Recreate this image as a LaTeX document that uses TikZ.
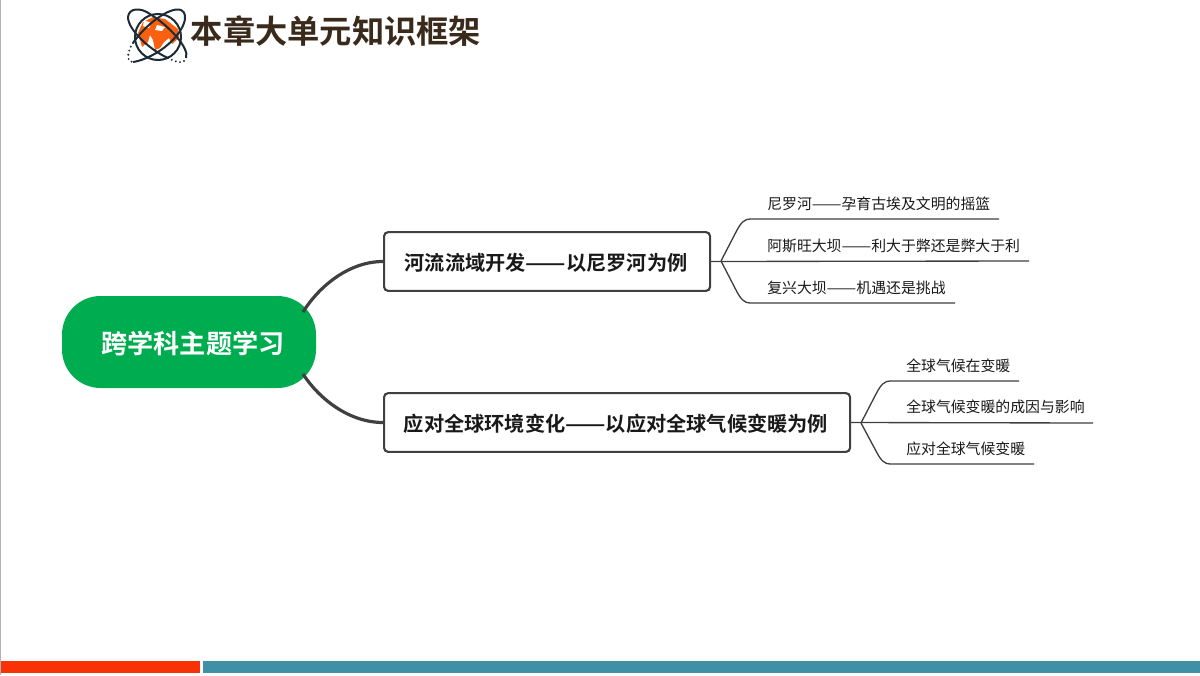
\documentclass[tikz,border=0pt]{standalone}
\usepackage{fontspec}
\setmainfont{Noto Sans CJK SC}[BoldFont={Noto Sans CJK SC Bold}]
\usetikzlibrary{positioning}
\definecolor{rootgreen}{HTML}{00AC50}
\definecolor{linegray}{HTML}{404040}
\definecolor{titlebrown}{HTML}{3A2A1C}
\definecolor{logonavy}{HTML}{1C2B36}
\definecolor{logoorange}{HTML}{F9600F}
\definecolor{barred}{HTML}{F93206}
\definecolor{barteal}{HTML}{3F8FA6}
\newcommand{\longdash}{\resizebox{2em}{\height}{——}}

\begin{document}
\begin{tikzpicture}[
	x=0.75pt, y=-0.75pt,
	root/.style={rectangle, rounded corners=29pt, fill=rootgreen, text=white, font=\fontsize{19.6pt}{22pt}\bfseries,
		minimum width=190.5pt, minimum height=69pt, inner sep=0pt},
	topic/.style={rectangle, rounded corners=3pt, draw=linegray, line width=1.6pt, fill=white,
		minimum height=44pt, inner sep=0pt, anchor=west},
	topictext/.style={font=\fontsize{15.15pt}{18pt}\bfseries, text=black!90, inner sep=0pt},
	leaf/.style={text=black!90, font=\fontsize{11.15pt}{13pt}\selectfont, inner sep=0pt, anchor=west},
	branch/.style={draw=linegray, line width=2.4pt},
	twig/.style={draw=linegray, line width=1pt},
	orbit/.style={draw=logonavy, line width=1.5pt},
	orbitdots/.style={draw=logonavy, line width=1.6pt, line cap=round, dash pattern=on 0pt off 3.2pt}
]
\useasboundingbox (0,0) rectangle (1200,675);
\fill[white] (0,0) rectangle (1200,675);
\draw[black!30, line width=0.9pt] (0.5,0) -- (0.5,675);

% bottom bars
\fill[barred] (1,661) rectangle (200,673);
\fill[barteal] (203,661) rectangle (1200,673);

% logo
\fill[logoorange] (138,33) -- (143,22) -- (153,17) -- (165,19) -- (178,29) -- (179,38) -- (172,44)
	-- (169,38) -- (164,42) -- (160,48) -- (155,50) -- (153,40) -- (150,35) -- (148,42) -- (142,47) -- (139,35) -- cycle;
\fill[white] (144,20) -- (151,23) -- (149,28) -- (143,26) -- cycle;
\fill[white] (157,25) -- (165,27) -- (162,31) -- (155,30) -- cycle;
\draw[orbit] (158,37) circle [radius=23];
\draw[orbit] (168,58) .. controls (150,50) and (128,30) .. (128,17)
	.. controls (129,8) and (140,7) .. (150,14) .. controls (168,25) and (190,48) .. (186,58);
\draw[orbit] (133,43) .. controls (145,25) and (170,6) .. (181,10)
	.. controls (190,14) and (184,32) .. (165,47) .. controls (152,57) and (140,61) .. (133,62);
\draw[orbitdots] (133,43) .. controls (127,52) and (126,62) .. (133,62);
\draw[orbitdots] (168,58) .. controls (176,62) and (184,65) .. (186,58);

% title
\node[font=\fontsize{24.2pt}{28pt}\bfseries, text=titlebrown, inner sep=0pt] (Title) at (336,31) {本章大单元知识框架};

% mind map
\node [root] (Root) at (189,342) {};
\node [text=white, font=\fontsize{19.6pt}{22pt}\bfseries, inner sep=0pt] (RootText) at (193,344) {跨学科主题学习};
\node [topic, minimum width=244.5pt] (Nile) at (383,261.5) {};
\node [topictext] (NileText) at (546,263) {河流流域开发\longdash 以尼罗河为例};
\node [topic, minimum width=349.5pt] (Climate) at (383,422.5) {};
\node [topictext] (ClimateText) at (616,424) {应对全球环境变化\longdash 以应对全球气候变暖为例};

\coordinate (RootUp) at (303,312);
\coordinate (RootDown) at (303,374);
\draw[branch] (RootUp) .. controls (320,285) and (350,261.5) .. (Nile.west);
\draw[branch] (RootDown) .. controls (320,400) and (350,422.5) .. (Climate.west);

\node [leaf] (NileA) at (767,204) {尼罗河\longdash 孕育古埃及文明的摇篮};
\node [leaf] (NileB) at (767,246) {阿斯旺大坝\longdash 利大于弊还是弊大于利};
\node [leaf] (NileC) at (767,288) {复兴大坝\longdash 机遇还是挑战};
\node [leaf] (ClimateA) at (906,366) {全球气候在变暖};
\node [leaf] (ClimateB) at (906,407) {全球气候变暖的成因与影响};
\node [leaf] (ClimateC) at (906,449) {应对全球气候变暖};

\coordinate (NileFork) at (721,261);
\coordinate (ClimateFork) at (861,423);
\coordinate (NileAEnd) at (999,219);
\coordinate (NileBEnd) at (1029,261);
\coordinate (NileCEnd) at (955,303);
\coordinate (ClimateAEnd) at (1019,381);
\coordinate (ClimateBEnd) at (1093,423);
\coordinate (ClimateCEnd) at (1034,464);

\draw[twig] (Nile.east) -- (NileBEnd);
\draw[twig] (NileFork) -- (736,232) .. controls (741,222) and (745,219) .. (750,219) -- (NileAEnd);
\draw[twig] (NileFork) -- (736,290) .. controls (741,300) and (745,303) .. (750,303) -- (NileCEnd);
\draw[twig] (Climate.east) -- (ClimateBEnd);
\draw[twig] (ClimateFork) -- (876,394) .. controls (881,384) and (885,381) .. (890,381) -- (ClimateAEnd);
\draw[twig] (ClimateFork) -- (876,451) .. controls (881,461) and (885,464) .. (890,464) -- (ClimateCEnd);

\end{tikzpicture}
\end{document}
